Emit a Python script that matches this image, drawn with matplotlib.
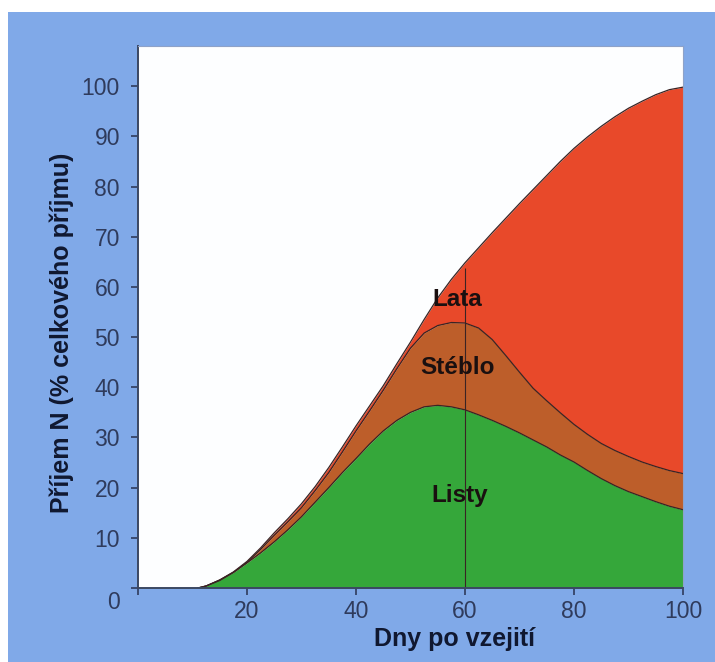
import numpy as np
import matplotlib
matplotlib.use('Agg')
import matplotlib.pyplot as plt
from matplotlib.patches import Rectangle
from matplotlib.transforms import ScaledTranslation

# days after emergence
days = [11, 12.5, 15, 17.5, 20, 22.5, 25, 27.5, 30, 32.5, 35, 37.5, 40, 42.5, 45,
        47.5, 50, 52.5, 55, 57.5, 60, 62.5, 65, 67.5, 70, 72.5, 75, 77.5, 80,
        82.5, 85, 87.5, 90, 92.5, 95, 97.5, 100]

# cumulative N uptake (% of total): leaves, leaves+stem, leaves+stem+panicle
listy = [0, 0.4, 1.6, 3.1, 5.0, 7.0, 9.2, 11.6, 14.2, 17.1, 20.0, 23.0, 25.8, 28.7, 31.3,
         33.4, 35.0, 36.1, 36.4, 36.1, 35.5, 34.5, 33.4, 32.2, 30.9, 29.5, 28.1, 26.5, 25.1,
         23.4, 21.8, 20.4, 19.2, 18.2, 17.2, 16.3, 15.6]
steblo_top = [0, 0.4, 1.5, 3.1, 5.1, 7.7, 10.5, 13.2, 16.0, 19.4, 23.0, 27.1, 31.3, 35.3, 39.4,
              43.7, 47.8, 50.8, 52.3, 52.9, 52.8, 51.8, 49.5, 46.3, 43.0, 39.8, 37.3, 34.9, 32.6,
              30.6, 28.8, 27.4, 26.2, 25.1, 24.2, 23.4, 22.8]
celkem = [0, 0.4, 1.6, 3.2, 5.3, 8.0, 11.0, 13.8, 16.8, 20.2, 24.0, 28.1, 32.3, 36.3, 40.3,
          44.7, 49.0, 53.5, 57.8, 61.5, 64.8, 67.8, 70.8, 73.7, 76.6, 79.4, 82.2, 85.0, 87.6,
          89.9, 92.0, 93.9, 95.6, 97.0, 98.3, 99.3, 99.8]

labels = ['Lata', 'Stéblo', 'Listy']
label_pos = [(58.5, 57.5), (58.6, 44.0), (59.1, 18.5)]

yticks = [0, 10, 20, 30, 40, 50, 60, 70, 80, 90, 100]
xticks = [0, 20, 40, 60, 80, 100]
xticklabels = ['', '20', '40', '60', '80', '100']

plt.rcParams['font.family'] = ['Liberation Sans', 'DejaVu Sans']

bg_blue = '#80a9e8'
c_green = '#35a73a'
c_brown = '#bd5e2a'
c_red = '#e8492a'
edge = '#3a2424'
tick_col = '#2f3b5c'

fig = plt.figure(figsize=(7.15, 6.62), dpi=100, facecolor='white')
fig.patches.append(Rectangle((8 / 715, 0), 1, 1 - 12 / 662, transform=fig.transFigure,
                             facecolor=bg_blue, edgecolor='none', zorder=-10))

ax = fig.add_axes([138 / 715, 74 / 662, 545 / 715, 542 / 662])
ax.set_facecolor('#fdfeff')

x = np.array(days)
g = np.array(listy)
s = np.array(steblo_top)
t = np.array(celkem)

ax.fill_between(x, s, t, color=c_red, lw=0)
ax.fill_between(x, g, s, color=c_brown, lw=0)
ax.fill_between(x, 0, g, color=c_green, lw=0)
ax.plot(x, t, color=edge, lw=0.9)
ax.plot(x, s, color=edge, lw=0.9)
ax.plot(x, g, color=edge, lw=0.9)

ax.vlines(60, 0, t[days.index(60)] - 1, color=edge, lw=0.8)

for lab, (lx, ly) in zip(labels, label_pos):
    ax.text(lx, ly, lab, ha='center', va='center', fontsize=17.5, fontweight='bold',
            color='#1a1010')

ax.set_xlim(0, 100)
ax.set_ylim(0, 108)
ax.set_xticks(xticks)
ax.set_xticklabels(xticklabels)
ax.set_yticks(yticks)

ax.tick_params(axis='both', direction='out', length=5, width=1.2, color=tick_col,
               labelcolor=tick_col, labelsize=16.5)
ax.tick_params(axis='y', pad=8)
ax.tick_params(axis='x', pad=4)

for side in ['left', 'bottom']:
    ax.spines[side].set_color('#3b4862')
    ax.spines[side].set_linewidth(1.4)
for side in ['top', 'right']:
    ax.spines[side].set_color('#8ea2c8')
    ax.spines[side].set_linewidth(0.8)

ax.set_xlabel('Dny po vzejití', fontsize=18, fontweight='bold', color='#101830')
ax.xaxis.set_label_coords(0.58, -0.072)
ax.set_ylabel('Příjem N (% celkového příjmu)', fontsize=18, fontweight='bold', color='#101830')
ax.yaxis.set_label_coords(-0.118, 0.47)

fig.canvas.draw()
zero_lab = ax.get_yticklabels()[0]
zero_lab.set_transform(zero_lab.get_transform() + ScaledTranslation(0, -12 / 100, fig.dpi_scale_trans))

fig.savefig('out.png', dpi=100, facecolor='white')
